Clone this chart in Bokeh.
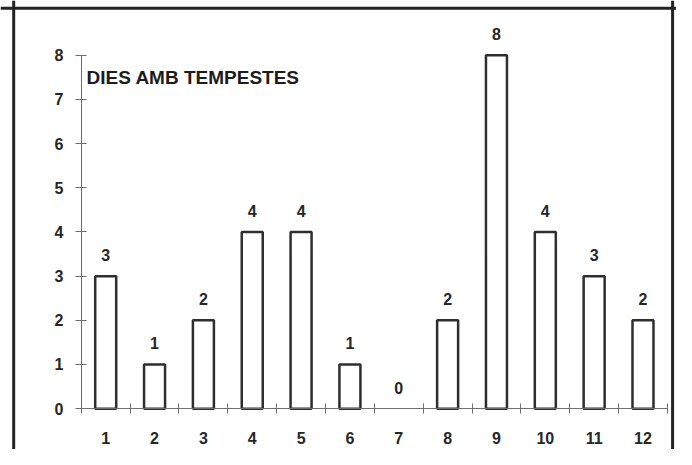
from bokeh.plotting import figure
from bokeh.models import LinearAxis, FixedTicker, Span, Label, ColumnDataSource, Range1d
from bokeh.embed import file_html
from bokeh.resources import INLINE
from bokeh.core.properties import value

# ---- data ----
months = [1, 2, 3, 4, 5, 6, 7, 8, 9, 10, 11, 12]
month_labels = ["1", "2", "3", "4", "5", "6", "7", "8", "9", "10", "11", "12"]
storm_days = [3, 1, 2, 4, 4, 1, 0, 2, 8, 4, 3, 2]
y_ticks = [0, 1, 2, 3, 4, 5, 6, 7, 8]
chart_title = "DIES AMB TEMPESTES"

# ---- layout constants ----
W, H = 676, 449
SX, SY = W / 692.0, H / 465.0          # reference -> canvas scale
PX_X = 50.0 * SX                       # pixels per category
PX_Y = 45.75 * SY                      # pixels per unit
AX_LEFT = 82.7 * SX                    # canvas px where x = 0.5
AX_BASE = 422.7 * SY                   # canvas px (from top) where y = 0

x_start = 0.5 - AX_LEFT / PX_X
x_end = x_start + W / PX_X
y_end = AX_BASE / PX_Y
y_start = y_end - H / PX_Y


def dx(px):
    return x_start + px / PX_X


def dy(py):
    return y_end - py / PX_Y


FONT = "Liberation Sans"
INK = "#262626"
BAR = "#2e2e2e"
AXIS = "#6e6e6e"
FRAME = "#232323"

p = figure(width=W, height=H, output_backend="svg", toolbar_location=None,
           x_range=Range1d(x_start, x_end), y_range=Range1d(y_start, y_end),
           x_axis_type=None, y_axis_type=None, min_border=0)
p.outline_line_color = None
p.background_fill_color = "white"
p.border_fill_color = "white"

src = ColumnDataSource(dict(x=months, top=storm_days,
                            label=[str(v) for v in storm_days],
                            edge=[1.0 if v > 0 else 0.0 for v in storm_days]))

p.vbar(x="x", top="top", width=0.43, bottom=0, source=src,
       fill_color="white", line_color=BAR, line_width=2.5, line_alpha="edge")

p.text(x="x", y="top", text="label", source=src,
       text_align="center", text_baseline="alphabetic", y_offset=-21,
       text_font=value(FONT), text_font_size="16px", text_font_style="bold",
       text_color=INK)

# y axis
yax = LinearAxis(fixed_location=0.5, bounds=(0, 8),
                 ticker=FixedTicker(ticks=y_ticks))
yax.axis_line_color = AXIS
yax.axis_line_width = 1
yax.major_tick_line_color = AXIS
yax.major_tick_in = 5
yax.major_tick_out = 6
yax.minor_tick_line_color = None
yax.major_label_standoff = 12
yax.major_label_text_font = FONT
yax.major_label_text_font_size = "16px"
yax.major_label_text_font_style = "bold"
yax.major_label_text_color = INK
p.add_layout(yax, "left")

# x axis
minor = [m - 0.5 for m in months] + [months[-1] + 0.5]
xax = LinearAxis(fixed_location=0, bounds=(0.5, 12.5),
                 ticker=FixedTicker(ticks=months, minor_ticks=minor))
xax.major_label_overrides = {m: lab for m, lab in zip(months, month_labels)}
xax.axis_line_color = AXIS
xax.axis_line_width = 1
xax.major_tick_line_color = None
xax.major_tick_in = 0
xax.major_tick_out = 0
xax.minor_tick_line_color = AXIS
xax.minor_tick_in = 5
xax.minor_tick_out = 5
xax.major_label_standoff = 18
xax.major_label_text_font = FONT
xax.major_label_text_font_size = "16px"
xax.major_label_text_font_style = "bold"
xax.major_label_text_color = INK
p.add_layout(xax, "below")

# title inside plot
p.add_layout(Label(x=dx(88 * SX), y=dy(80 * SY),
                   text=chart_title, text_font=FONT, text_font_size="19px",
                   text_font_style="bold", text_color="#1c1c1c",
                   text_baseline="alphabetic"))

# scanned box border (left, top, right)
p.add_layout(Span(location=dx(13.5 * SX), dimension="height",
                  line_color=FRAME, line_width=3))
p.add_layout(Span(location=dy(8 * SY), dimension="width",
                  line_color=FRAME, line_width=3))
p.add_layout(Span(location=dx(688 * SX), dimension="height",
                  line_color=FRAME, line_width=3))

open("out.html", "w").write(file_html(p, INLINE))
